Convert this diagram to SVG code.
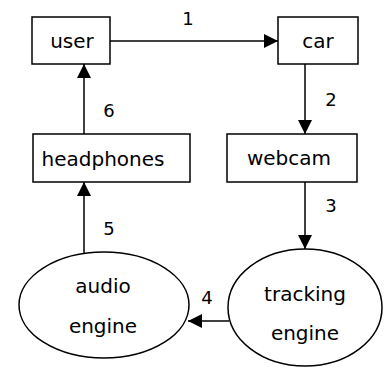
<svg xmlns="http://www.w3.org/2000/svg" width="384" height="367" viewBox="0 0 384 367">
<style>
.box{fill:#fff;stroke:#000;stroke-width:1.5}
.lbl{font-family:"DejaVu Sans",Verdana,sans-serif;font-size:20px;fill:#000;text-anchor:middle}
.num{font-family:"DejaVu Sans",Verdana,sans-serif;font-size:18px;fill:#000;text-anchor:middle}
.edge{stroke:#000;stroke-width:1.5;fill:none;marker-end:url(#ah)}
</style>
<defs>
<marker id="ah" viewBox="0 0 14 14" refX="14" refY="7" markerWidth="14" markerHeight="14" markerUnits="userSpaceOnUse" orient="auto">
<path d="M0,0 L14,7 L0,14 Z" fill="#000"/>
</marker>
</defs>
<rect width="384" height="367" fill="#fff"/>
<g id="connectors">
<line class="edge" x1="110" y1="41" x2="278" y2="41"/>
<line class="edge" x1="305" y1="64" x2="305" y2="134"/>
<line class="edge" x1="305" y1="182" x2="305" y2="249"/>
<line class="edge" x1="229" y1="321" x2="188" y2="321"/>
<line class="edge" x1="84" y1="253" x2="84" y2="182"/>
<line class="edge" x1="84" y1="134" x2="84" y2="64"/>
<text class="num" x="188" y="25">1</text>
<text class="num" x="331" y="106">2</text>
<text class="num" x="331" y="212">3</text>
<text class="num" x="207" y="304">4</text>
<text class="num" x="109" y="235">5</text>
<text class="num" x="109" y="117">6</text>
</g>
<g id="user">
<rect class="box" x="32" y="17" width="78" height="47"/>
<text class="lbl" x="72" y="48">user</text>
</g>
<g id="car">
<rect class="box" x="278" y="17" width="80" height="47"/>
<text class="lbl" x="318" y="48">car</text>
</g>
<g id="webcam">
<rect class="box" x="227" y="134" width="130" height="48"/>
<text class="lbl" x="289" y="165">webcam</text>
</g>
<g id="headphones">
<rect class="box" x="33" y="134" width="157" height="48"/>
<text class="lbl" x="103" y="166">headphones</text>
</g>
<g id="audio-engine">
<ellipse class="box" cx="104" cy="305" rx="85" ry="53"/>
<text class="lbl" x="103" y="293">audio</text>
<text class="lbl" x="103" y="333">engine</text>
</g>
<g id="tracking-engine">
<ellipse class="box" cx="305" cy="307.5" rx="77" ry="58.5"/>
<text class="lbl" x="305" y="301">tracking</text>
<text class="lbl" x="305" y="340">engine</text>
</g>
</svg>
